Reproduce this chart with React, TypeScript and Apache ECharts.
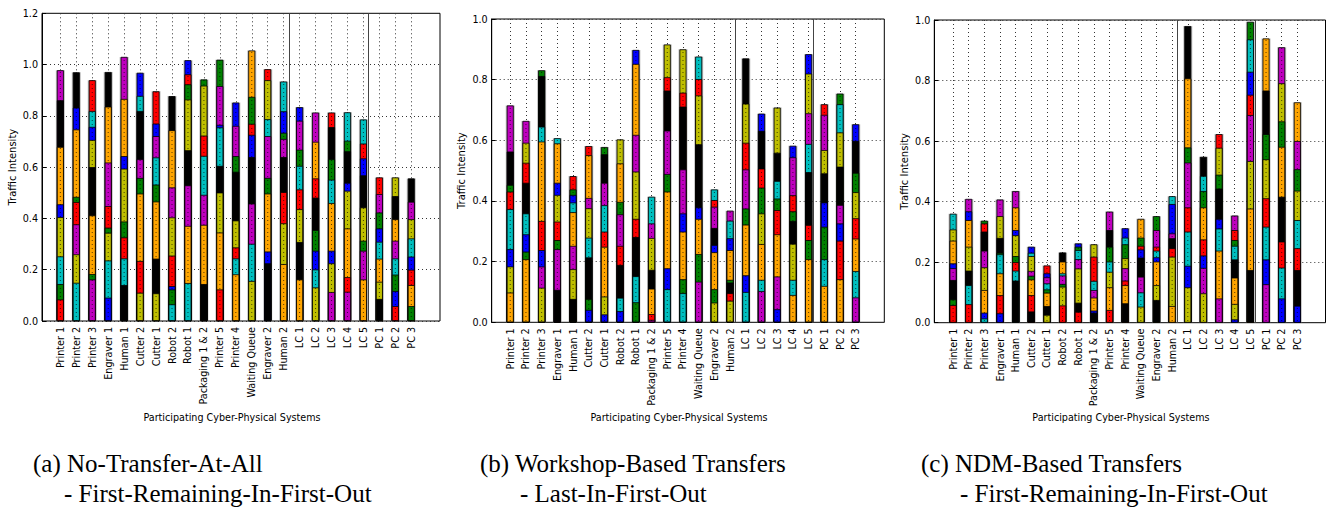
import React, { useEffect, useRef } from "react";
import * as echarts from "echarts";

// Participating cyber-physical systems, in plotting order
const systems = [
  "Printer 1", "Printer 2", "Printer 3", "Engraver 1", "Human 1", "Cutter 2", "Cutter 1",
  "Robot 2", "Robot 1", "Packaging 1 & 2", "Printer 5", "Printer 4", "Waiting Queue",
  "Engraver 2", "Human 2", "LC 1", "LC 2", "LC 3", "LC 4", "LC 5", "PC 1", "PC 2", "PC 3",
];

// Segment colour codes per bar, bottom to top
// r red, o orange, y olive, g green, c cyan, b blue, m magenta, k black
const noTransferColours = [
  "rgcybokm", "cymrgobk", "mgokybcr", "bcygrmok", "kcrgybom", "yrogmkcb", "ykogcmbr", "cgbrymok",
  "comkygrb", "komcryg", "roykcbmg", "ocrykgmb", "ycmkbrgo", "kbogmcyr", "oyrkmgbc", "okyrcgmb",
  "ycbgkrom", "mybocgkr", "mroybkgc", "omgykbrc", "kyocbgmr", "rbgcmoky", "gorbcymk",
];
// Cumulative traffic intensity at the top of each segment
const noTransferTops = [
  [0.084, 0.144, 0.252, 0.405, 0.455, 0.679, 0.861, 0.978],
  [0.149, 0.26, 0.377, 0.464, 0.484, 0.747, 0.832, 0.97],
  [0.162, 0.183, 0.412, 0.6, 0.706, 0.757, 0.819, 0.939],
  [0.091, 0.236, 0.344, 0.364, 0.448, 0.618, 0.836, 0.971],
  [0.14, 0.244, 0.326, 0.388, 0.594, 0.643, 0.866, 1.03],
  [0.11, 0.234, 0.497, 0.558, 0.631, 0.819, 0.878, 0.968],
  [0.108, 0.243, 0.466, 0.532, 0.638, 0.721, 0.77, 0.896],
  [0.065, 0.123, 0.136, 0.255, 0.404, 0.521, 0.744, 0.877],
  [0.148, 0.371, 0.529, 0.666, 0.864, 0.923, 0.962, 1.017],
  [0.144, 0.375, 0.492, 0.644, 0.723, 0.918, 0.942],
  [0.123, 0.345, 0.501, 0.605, 0.755, 0.765, 0.916, 1.019],
  [0.182, 0.244, 0.287, 0.392, 0.582, 0.643, 0.761, 0.852],
  [0.156, 0.301, 0.458, 0.639, 0.726, 0.769, 0.874, 1.055],
  [0.225, 0.271, 0.497, 0.558, 0.721, 0.787, 0.939, 0.982],
  [0.222, 0.381, 0.503, 0.639, 0.71, 0.734, 0.818, 0.934],
  [0.162, 0.308, 0.436, 0.513, 0.605, 0.668, 0.781, 0.834],
  [0.131, 0.201, 0.274, 0.355, 0.481, 0.556, 0.699, 0.813],
  [0.113, 0.225, 0.274, 0.46, 0.551, 0.631, 0.756, 0.813],
  [0.114, 0.171, 0.361, 0.508, 0.539, 0.662, 0.703, 0.814],
  [0.162, 0.274, 0.313, 0.443, 0.568, 0.634, 0.692, 0.786],
  [0.086, 0.153, 0.243, 0.309, 0.361, 0.423, 0.495, 0.56],
  [0.058, 0.117, 0.181, 0.244, 0.313, 0.397, 0.487, 0.56],
  [0.058, 0.14, 0.2, 0.251, 0.322, 0.397, 0.465, 0.556],
];

const workshopColours = [
  "oybcrgkm", "ogbckrym", "ymbrockg", "kmgrybocc", "kymocbgr", "bgkcymor", "byorcmkg", "bckrmgoy",
  "gckrymob", "mrokymc", "cbogmkry", "cgobmkry", "mgobkyrc", "ygobkmrc", "yrkgobcm", "cbogmryk",
  "mcoygrkb", "bmorgcky", "ocykgrmb", "ogrkcmyb", "ocgbkymr", "orbmkycg", "mcorygkb",
];
const workshopTops = [
  [0.098, 0.184, 0.241, 0.373, 0.431, 0.453, 0.563, 0.715],
  [0.208, 0.233, 0.29, 0.359, 0.46, 0.526, 0.592, 0.664],
  [0.114, 0.184, 0.238, 0.334, 0.596, 0.645, 0.812, 0.831],
  [0.107, 0.241, 0.271, 0.332, 0.42, 0.46, 0.59, 0.607],
  [0.077, 0.175, 0.252, 0.363, 0.395, 0.42, 0.438, 0.482],
  [0.041, 0.077, 0.214, 0.279, 0.376, 0.41, 0.551, 0.581],
  [0.026, 0.085, 0.249, 0.299, 0.386, 0.46, 0.554, 0.578],
  [0.037, 0.081, 0.189, 0.252, 0.356, 0.397, 0.524, 0.603],
  [0.066, 0.152, 0.281, 0.341, 0.497, 0.618, 0.852, 0.898],
  [0.008, 0.027, 0.111, 0.173, 0.278, 0.326, 0.414],
  [0.109, 0.178, 0.431, 0.489, 0.632, 0.764, 0.808, 0.916],
  [0.096, 0.142, 0.299, 0.359, 0.504, 0.711, 0.757, 0.9],
  [0.134, 0.225, 0.341, 0.379, 0.587, 0.748, 0.802, 0.876],
  [0.065, 0.109, 0.231, 0.255, 0.311, 0.381, 0.403, 0.438],
  [0.071, 0.096, 0.131, 0.14, 0.238, 0.277, 0.335, 0.368],
  [0.1, 0.155, 0.322, 0.375, 0.504, 0.592, 0.721, 0.87],
  [0.103, 0.14, 0.258, 0.359, 0.444, 0.507, 0.631, 0.688],
  [0.043, 0.151, 0.29, 0.37, 0.408, 0.466, 0.559, 0.708],
  [0.09, 0.14, 0.259, 0.334, 0.366, 0.419, 0.544, 0.582],
  [0.208, 0.271, 0.321, 0.495, 0.588, 0.689, 0.82, 0.884],
  [0.12, 0.208, 0.315, 0.395, 0.491, 0.568, 0.684, 0.719],
  [0.142, 0.269, 0.326, 0.387, 0.513, 0.626, 0.719, 0.754],
  [0.082, 0.169, 0.276, 0.343, 0.429, 0.493, 0.598, 0.653],
];

const ndmColours = [
  "rgkmboyc", "rckyobm", "cboymkrg", "brocgkym", "kcrgybom", "krogmycb", "ykogcmbr", "rygmcok",
  "rkymcgb", "kbomcry", "roycgkmg", "kormygcb", "ycmkbrgo", "kyobcrmg", "oyrkmbc", "ybcrmgok",
  "ymbrogck", "mocbkgyr", "byokcgrm", "koymrbcg", "mbcrygko", "bcrkogym", "bkrcygmo",
];
const ndmTops = [
  [0.058, 0.077, 0.141, 0.18, 0.196, 0.271, 0.308, 0.36],
  [0.061, 0.124, 0.172, 0.251, 0.339, 0.368, 0.409],
  [0.014, 0.033, 0.108, 0.183, 0.238, 0.301, 0.328, 0.337],
  [0.031, 0.091, 0.163, 0.226, 0.231, 0.28, 0.352, 0.407],
  [0.139, 0.172, 0.2, 0.22, 0.289, 0.306, 0.381, 0.435],
  [0.037, 0.091, 0.143, 0.155, 0.171, 0.22, 0.231, 0.251],
  [0.026, 0.055, 0.099, 0.11, 0.13, 0.15, 0.163, 0.189],
  [0.057, 0.119, 0.128, 0.156, 0.163, 0.202, 0.232],
  [0.036, 0.066, 0.179, 0.21, 0.24, 0.251, 0.262],
  [0.033, 0.04, 0.083, 0.108, 0.138, 0.218, 0.259],
  [0.042, 0.117, 0.168, 0.202, 0.251, 0.306, 0.367],
  [0.064, 0.124, 0.139, 0.18, 0.213, 0.259, 0.281, 0.312],
  [0.053, 0.1, 0.152, 0.215, 0.242, 0.254, 0.281, 0.343],
  [0.075, 0.124, 0.202, 0.216, 0.238, 0.251, 0.306, 0.352],
  [0.055, 0.218, 0.246, 0.279, 0.295, 0.392, 0.418],
  [0.117, 0.188, 0.301, 0.381, 0.529, 0.579, 0.807, 0.98],
  [0.097, 0.181, 0.222, 0.275, 0.381, 0.435, 0.485, 0.548],
  [0.08, 0.238, 0.311, 0.343, 0.443, 0.489, 0.578, 0.623],
  [0.011, 0.062, 0.149, 0.209, 0.254, 0.273, 0.306, 0.354],
  [0.174, 0.377, 0.534, 0.686, 0.753, 0.829, 0.936, 0.994],
  [0.127, 0.209, 0.317, 0.411, 0.54, 0.623, 0.767, 0.939],
  [0.08, 0.182, 0.268, 0.416, 0.581, 0.665, 0.791, 0.91],
  [0.056, 0.174, 0.246, 0.339, 0.436, 0.507, 0.6, 0.728],
];

// Group boundaries (between Human 2 / LC 1 and LC 5 / PC 1)
const groupSeparators = [14.32, 19.32];

const palette: Record<string, string> = {
  r: "#ff0000",
  o: "#ffa500",
  y: "#bfbf00",
  g: "#008000",
  c: "#00bfbf",
  b: "#0000ff",
  m: "#bf00bf",
  k: "#000000",
};

const FONT = "DejaVu Sans";
const SERIF = "Liberation Serif";
const SMALL = 9.6;

type Panel = {
  colours: string[];
  tops: number[][];
  yMax: number;
  left: number;
  right: number;
  top: number;
  bottom: number;
  padL: number;
  padR: number;
  caption: string;
  subCaption: string;
  captionX: number;
  subCaptionX: number;
};

const panels: Panel[] = [
  {
    colours: noTransferColours, tops: noTransferTops, yMax: 1.2,
    left: 42, right: 440, top: 13.3, bottom: 321, padL: 1.15, padR: 1.8,
    caption: "(a) No-Transfer-At-All", subCaption: "- First-Remaining-In-First-Out",
    captionX: 33, subCaptionX: 64,
  },
  {
    colours: workshopColours, tops: workshopTops, yMax: 1.0,
    left: 491.7, right: 884.3, top: 19, bottom: 322.3, padL: 1.18, padR: 1.82,
    caption: "(b) Workshop-Based Transfers", subCaption: "- Last-In-First-Out",
    captionX: 480, subCaptionX: 520,
  },
  {
    colours: ndmColours, tops: ndmTops, yMax: 1.0,
    left: 934.3, right: 1325.5, top: 20, bottom: 322.7, padL: 1.2, padR: 1.8,
    caption: "(c) NDM-Based Transfers", subCaption: "- First-Remaining-In-First-Out",
    captionX: 921, subCaptionX: 960,
  },
];

const dotted = { color: "#333", width: 1, type: [1, 3] as number[] };

function buildOption() {
  const grid: any[] = [];
  const xAxis: any[] = [];
  const yAxis: any[] = [];
  const series: any[] = [];
  const graphic: any[] = [];
  const n = systems.length;

  panels.forEach((p) => {
    const W = p.right - p.left;
    const H = p.bottom - p.top;
    const span = n - 1 + p.padL + p.padR;
    const step = W / span;

    const gFrame = grid.length;
    grid.push({
      left: p.left, top: p.top, width: W, height: H,
      show: true, borderColor: "#000", borderWidth: 1, backgroundColor: "transparent",
    });
    const gCat = grid.length;
    grid.push({ left: p.left + p.padL * step, top: p.top, width: (n - 1) * step, height: H });

    const valueX = () => ({
      gridIndex: gFrame, type: "value", min: -p.padL, max: n - 1 + p.padR, show: false,
    });
    const xSeg = xAxis.length; xAxis.push(valueX());
    const xShadow = xAxis.length; xAxis.push(valueX());
    const xDots = xAxis.length; xAxis.push(valueX());
    xAxis.push({
      gridIndex: gCat, type: "category", data: systems, boundaryGap: false,
      axisLine: { show: false }, axisTick: { show: false },
      axisLabel: { interval: 0, rotate: 90, margin: 6, fontSize: SMALL, fontFamily: FONT, color: "#000" },
      splitLine: { show: true, interval: 0, lineStyle: dotted },
    });

    const yMain = yAxis.length;
    yAxis.push({
      gridIndex: gFrame, type: "value", min: 0, max: p.yMax, interval: 0.2,
      axisLine: { show: true, onZero: false, lineStyle: { color: "#000", width: 1 } },
      axisTick: { show: true, inside: true, length: 4, lineStyle: { color: "#000" } },
      axisLabel: {
        margin: 4, fontSize: SMALL, fontFamily: FONT, color: "#000",
        formatter: (v: number) => v.toFixed(1),
      },
      splitLine: { show: true, lineStyle: dotted },
    });
    yAxis.push({ gridIndex: gCat, type: "value", min: 0, max: p.yMax, show: false });

    const totals = p.tops.map((t) => t[t.length - 1]);

    // Soft grey outline behind each column
    series.push({
      type: "bar", xAxisIndex: xShadow, yAxisIndex: yMain, barWidth: 9, z: 2, silent: true,
      data: totals.map((v, i) => [i, v]),
      itemStyle: { color: "rgba(110,110,110,0.45)" },
      markLine: {
        silent: true, symbol: "none", label: { show: false },
        lineStyle: { color: "#444", width: 1, type: "solid" },
        data: groupSeparators.map((x) => ({ xAxis: x })),
      },
    });

    // Layered segments: each layer rises from zero to its cumulative top, and
    // lower layers are drawn later so they cover the part below the boundary.
    // barGap -100% keeps all layers on the same slot.
    const maxSeg = Math.max(...p.tops.map((t) => t.length));
    for (let j = maxSeg - 1; j >= 0; j--) {
      series.push({
        type: "bar", xAxisIndex: xSeg, yAxisIndex: yMain,
        barWidth: 7, barGap: "-100%", z: 3, silent: true,
        itemStyle: { borderColor: "#000", borderWidth: 0.8 },
        data: p.tops.map((t, i) =>
          j < t.length
            ? { value: [i, t[j]], itemStyle: { color: palette[p.colours[i][j]] } }
            : { value: [i, "-"] }
        ),
      });
    }

    // Dotted hatching down the middle of each column
    series.push({
      type: "bar", xAxisIndex: xDots, yAxisIndex: yMain, barWidth: 1, z: 4, silent: true,
      data: totals.map((v, i) => [i, v]),
      itemStyle: {
        color: "rgba(0,0,0,0)",
        decal: {
          symbol: "rect", symbolSize: 1, color: "rgba(0,0,0,0.65)",
          dashArrayX: [1, 0], dashArrayY: [1, 3], rotation: 0,
        },
      },
    });

    // Axis titles and captions
    graphic.push({
      type: "text", x: p.left - 30, y: (p.top + p.bottom) / 2, rotation: Math.PI / 2,
      style: {
        text: "Traffic Intensity", fontSize: 10, fontFamily: FONT, fill: "#000",
        align: "center", verticalAlign: "middle",
      },
    });
    graphic.push({
      type: "text", x: (p.left + p.right) / 2 - 9, y: 417,
      style: {
        text: "Participating Cyber-Physical Systems", fontSize: SMALL, fontFamily: FONT, fill: "#000",
        align: "center", verticalAlign: "middle",
      },
    });
    graphic.push({
      type: "text", x: p.captionX, y: 463,
      style: { text: p.caption, fontSize: 25, fontFamily: SERIF, fill: "#000", align: "left", verticalAlign: "middle" },
    });
    graphic.push({
      type: "text", x: p.subCaptionX, y: 493,
      style: { text: p.subCaption, fontSize: 25, fontFamily: SERIF, fill: "#000", align: "left", verticalAlign: "middle" },
    });
  });

  return { animation: false, backgroundColor: "#fff", grid, xAxis, yAxis, series, graphic };
}

export default function App() {
  const ref = useRef<HTMLDivElement>(null);
  useEffect(() => {
    if (!ref.current) return;
    const chart = echarts.init(ref.current, undefined, { renderer: "svg" });
    chart.setOption(buildOption() as any);
    return () => chart.dispose();
  }, []);
  return (
    <div
      ref={ref}
      style={{ position: "absolute", left: 0, top: 0, width: 1330, height: 508, background: "#fff" }}
    />
  );
}
